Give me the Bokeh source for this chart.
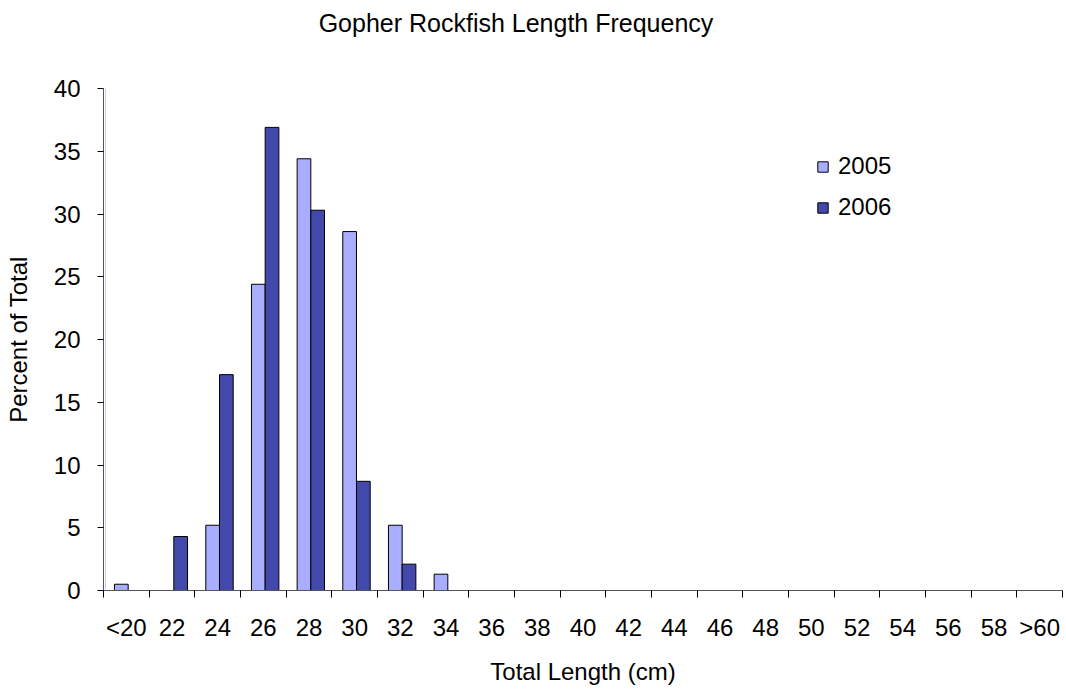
from bokeh.plotting import figure
from bokeh.models import FixedTicker, Legend, LegendItem, ColumnDataSource, Range1d, Div, Span
from bokeh.layouts import column
from bokeh.embed import file_html
from bokeh.resources import INLINE

categories = ["<20", "22", "24", "26", "28", "30", "32", "34", "36", "38", "40",
              "42", "44", "46", "48", "50", "52", "54", "56", "58", ">60"]
pct_2005 = [0.5, 0, 5.2, 24.4, 34.4, 28.6, 5.2, 1.3, 0, 0, 0,
            0, 0, 0, 0, 0, 0, 0, 0, 0, 0]
pct_2006 = [0, 4.3, 17.2, 36.9, 30.3, 8.7, 2.1, 0, 0, 0, 0,
            0, 0, 0, 0, 0, 0, 0, 0, 0, 0]
y_ticks = [0, 5, 10, 15, 20, 25, 30, 35, 40]
title_text = "Gopher Rockfish Length Frequency"

FONT = "Liberation Sans"
n = len(categories)
centers = [i + 0.54 for i in range(n)]

title = Div(text=title_text, width=1032, height=40, margin=(0, 0, 0, 0),
            styles={"font-family": FONT, "font-size": "25px", "color": "black",
                    "text-align": "center", "padding-top": "6px", "width": "1032px",
                    "box-sizing": "border-box"})

p = figure(width=1066, height=651, output_backend="svg", toolbar_location=None,
           x_range=Range1d(0, n), y_range=Range1d(0, 40),
           min_border_left=103, min_border_right=4, min_border_top=48, min_border_bottom=101)
p.background_fill_color = "white"
p.border_fill_color = "white"
p.outline_line_color = None
p.grid.visible = False

# faint lavender ghost line beside the value axis, as in the original rendering
p.add_layout(Span(location=0.045, dimension="height", line_color="#C9CBF2", line_width=1))

src = ColumnDataSource(dict(x5=[c - 0.15 for c in centers], x6=[c + 0.15 for c in centers],
                            y5=pct_2005, y6=pct_2006))
r5 = p.vbar(x="x5", top="y5", width=0.30, source=src, fill_color="#A9ADFF",
            line_color="black", line_width=1)
r6 = p.vbar(x="x6", top="y6", width=0.30, source=src, fill_color="#4349AA",
            line_color="black", line_width=1)

xa = p.xaxis[0]
xa.ticker = FixedTicker(ticks=[i + 0.5 for i in range(n)], minor_ticks=list(range(n + 1)))
xa.major_label_overrides = {i + 0.5: c for i, c in enumerate(categories)}
xa.major_tick_out = 0
xa.major_tick_in = 0
xa.minor_tick_out = 7
xa.minor_tick_in = 0
xa.minor_tick_line_color = "black"
xa.axis_line_color = "#555555"
xa.major_label_text_font = FONT
xa.major_label_text_font_size = "24px"
xa.major_label_text_color = "black"
xa.major_label_standoff = 16
xa.axis_label = "Total Length (cm)"
xa.axis_label_text_font = FONT
xa.axis_label_text_font_size = "24px"
xa.axis_label_text_font_style = "normal"
xa.axis_label_text_color = "black"
xa.axis_label_standoff = 14

ya = p.yaxis[0]
ya.ticker = FixedTicker(ticks=y_ticks)
ya.minor_tick_line_color = None
ya.major_tick_out = 6
ya.major_tick_in = 0
ya.major_tick_line_color = "black"
ya.axis_line_color = "#555555"
ya.major_label_text_font = FONT
ya.major_label_text_font_size = "24px"
ya.major_label_text_color = "black"
ya.major_label_standoff = 17
ya.axis_label = "Percent of Total"
ya.axis_label_text_font = FONT
ya.axis_label_text_font_size = "24px"
ya.axis_label_text_font_style = "normal"
ya.axis_label_text_color = "black"
ya.axis_label_standoff = 19

legend = Legend(items=[LegendItem(label="2005", renderers=[r5]),
                       LegendItem(label="2006", renderers=[r6])],
                location=(713, 369), glyph_width=13, glyph_height=13,
                label_standoff=9, spacing=13, padding=0, margin=0,
                border_line_color=None, background_fill_alpha=0,
                label_text_font=FONT, label_text_font_size="24px",
                label_text_color="black")
p.add_layout(legend, "center")

layout = column(title, p, spacing=0)
open("out.html", "w").write(file_html(layout, INLINE))
